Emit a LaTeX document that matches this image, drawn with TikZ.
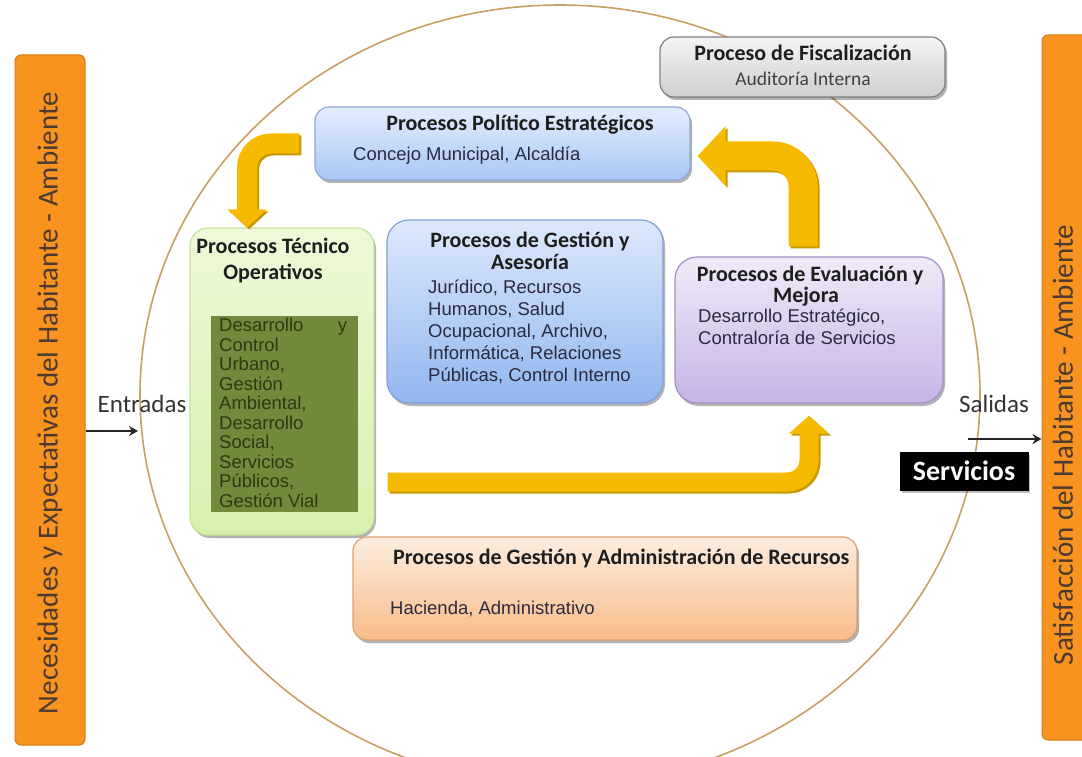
\documentclass[tikz,border=0pt]{standalone}
\usepackage{fontspec}
\setmainfont{Carlito}
\newfontfamily\bodyf{Liberation Sans}
\usetikzlibrary{arrows.meta,shadows,calc}
\definecolor{barOr}{HTML}{F7931E}
\definecolor{barOrD}{HTML}{D97A12}
\definecolor{ellc}{HTML}{C8A064}
\definecolor{fisD}{HTML}{7F7F7F}
\definecolor{fisT}{HTML}{F4F4F4}
\definecolor{fisB}{HTML}{CFCFCF}
\definecolor{polD}{HTML}{8EA9D8}
\definecolor{polT}{HTML}{E4EEFD}
\definecolor{polB}{HTML}{A9C6F4}
\definecolor{tecD}{HTML}{C5E39C}
\definecolor{tecT}{HTML}{EEF9D8}
\definecolor{tecB}{HTML}{D6F1AE}
\definecolor{olive}{HTML}{718A3C}
\definecolor{oliveT}{HTML}{2C3A10}
\definecolor{gesD}{HTML}{7F9FD8}
\definecolor{gesT}{HTML}{DDE9FC}
\definecolor{gesB}{HTML}{92B6EF}
\definecolor{evaD}{HTML}{A291C8}
\definecolor{evaT}{HTML}{F0EAF8}
\definecolor{evaB}{HTML}{C6B4E6}
\definecolor{admD}{HTML}{DDA070}
\definecolor{admT}{HTML}{FDEDE0}
\definecolor{admB}{HTML}{F8BC8A}
\definecolor{ylw}{HTML}{F6BA00}
\definecolor{ylwD}{HTML}{C99A00}
\definecolor{ttlc}{HTML}{1E1E1E}
\definecolor{bodyc}{HTML}{2A2A40}
\definecolor{sidec}{HTML}{4A3A30}
\begin{document}
\begin{tikzpicture}[x=1pt,y=-1pt,
  pbox/.style={rounded corners=14pt, line width=1.2pt,
    drop shadow={shadow xshift=2pt, shadow yshift=-3pt, opacity=0.3, fill=black}},
  ttl/.style={font=\fontsize{22}{26}\selectfont\bfseries, text=ttlc, inner sep=0pt},
  bdy/.style={font=\bodyf\fontsize{18.5}{22}\selectfont, text=bodyc, inner sep=0pt},
  sidetxt/.style={text=sidec, rotate=90, inner sep=0pt},
  yarrow/.style={draw=ylw, line cap=butt},
  yshadow/.style={draw=ylwD, line cap=butt, transform canvas={xshift=2pt,yshift=-2pt}},
  conn/.style={draw=black!85, line width=1.6pt, -{Stealth[length=9pt,width=10pt]}},
  iolabel/.style={anchor=mid, inner sep=0pt, font=\fontsize{25}{29}\selectfont, text=black!80}
]
\useasboundingbox (0,0) rectangle (1082,757);
\fill[white] (0,0) rectangle (1082,757);

% big ellipse
\draw[ellc, line width=1.6pt] (560,395) ellipse [x radius=420, y radius=390];

% side bars
\node[fill=barOr, draw=barOrD, line width=1pt, rounded corners=6pt,
      minimum width=70pt, minimum height=690pt, inner sep=0pt] (lbar) at (50,400) {};
\node[fill=barOr, draw=barOrD, line width=1pt, rounded corners=6pt,
      minimum width=60pt, minimum height=705pt, inner sep=0pt] (rbar) at (1072,387.5) {};
\node[sidetxt, font=\fontsize{29}{33}\selectfont] (ltxt) at (50,403) {Necesidades y Expectativas del Habitante - Ambiente};
\node[sidetxt, font=\fontsize{29}{33}\selectfont] (rtxt) at (1063,445) {Satisfacción del Habitante - Ambiente};

% boxes
\node[pbox, draw=fisD, top color=fisT, bottom color=fisB,
      minimum width=285pt, minimum height=60pt] (fis) at (802.5,67) {};
\node[pbox, draw=polD, top color=polT, bottom color=polB,
      minimum width=375pt, minimum height=73pt] (pol) at (502.5,143.5) {};
\node[pbox, draw=tecD, top color=tecT, bottom color=tecB, rounded corners=18pt,
      minimum width=184pt, minimum height=307pt] (tec) at (282,381.5) {};
\node[fill=olive, minimum width=147pt, minimum height=196pt, inner sep=0pt] (inner) at (284.5,414) {};
\node[pbox, draw=gesD, top color=gesT, bottom color=gesB, rounded corners=22pt,
      minimum width=276pt, minimum height=183pt] (ges) at (525,311.5) {};
\node[pbox, draw=evaD, top color=evaT, bottom color=evaB, rounded corners=22pt,
      minimum width=268pt, minimum height=146pt] (eva) at (809,330) {};
\node[pbox, draw=admD, top color=admT, bottom color=admB,
      minimum width=504pt, minimum height=103pt] (adm) at (605,588.5) {};
\node[fill=black, draw=black, minimum width=128pt, minimum height=38pt, inner sep=0pt,
      drop shadow={shadow xshift=2pt, shadow yshift=-3pt, opacity=0.25, fill=black}] (serv) at (964,471)
      {\fontsize{28}{32}\selectfont\bfseries\color{white}Servicios};

% texts
\node[ttl, anchor=mid] (fisH) at (803,58) {Proceso de Fiscalización};
\node[anchor=mid, inner sep=0pt, font=\fontsize{19.5}{23}\selectfont, text=black!75] (fisS) at (803,83) {Auditoría Interna};

\node[ttl, anchor=mid] (polH) at (520,128) {Procesos Político Estratégicos};
\node[bdy, anchor=mid west] (polS) at (353,158) {Concejo Municipal, Alcaldía};

\node[ttl, anchor=mid] (tecH1) at (273,251) {Procesos Técnico};
\node[ttl, anchor=mid] (tecH2) at (273,277) {Operativos};
\node[bdy, anchor=north west, text=oliveT, align=left,
      font=\bodyf\fontsize{18.5}{19.5}\selectfont] (tecS) at (219,318)
  {\hbox to 128pt{Desarrollo\hfill y}\\Control\\Urbano,\\Gestión\\Ambiental,\\Desarrollo\\Social,\\Servicios\\Públicos,\\Gestión Vial};

\node[ttl, anchor=mid] (gesH1) at (530,245) {Procesos de Gestión y};
\node[ttl, anchor=mid] (gesH2) at (530,267) {Asesoría};
\node[bdy, anchor=north west, align=left] (gesS) at (428,280)
  {Jurídico, Recursos\\Humanos, Salud\\Ocupacional, Archivo,\\Informática, Relaciones\\Públicas, Control Interno};

\node[ttl, anchor=mid] (evaH1) at (810,279) {Procesos de Evaluación y};
\node[ttl, anchor=mid] (evaH2) at (806,300) {Mejora};
\node[bdy, anchor=north west, align=left] (evaS) at (698,309)
  {Desarrollo Estratégico,\\Contraloría de Servicios};

\node[ttl, anchor=mid west] (admH) at (393,562) {Procesos de Gestión y Administración de Recursos};
\node[bdy, anchor=mid west] (admS) at (390,612) {Hacienda, Administrativo};

% inputs / outputs
\node[iolabel] (entr) at (142,410) {Entradas};
\node[iolabel] (sal) at (994,410) {Salidas};
\coordinate (entrEnd) at (138,431);
\coordinate (salStart) at (968,439);
\draw[conn] (lbar.east |- entrEnd) -- (entrEnd);
\draw[conn] (salStart) -- (rbar.west |- salStart);

% yellow bent arrows
\coordinate (a1s) at ([xshift=-15pt]pol.west);
\coordinate (a1e) at ([xshift=-35pt]tec.north);
\draw[yshadow, line width=20pt, rounded corners=24pt, -{Triangle[length=18pt,width=38pt]}] (a1s) -| (a1e);
\draw[yarrow, line width=20pt, rounded corners=24pt, -{Triangle[length=18pt,width=38pt]}] (a1s) -| (a1e);

\coordinate (a2s) at ([xshift=-6pt,yshift=10pt]eva.north);
\coordinate (a2e) at ([xshift=7pt,yshift=-12.5pt]pol.east);
\draw[yshadow, line width=29pt, rounded corners=30pt, -{Triangle[length=28pt,width=58pt]}] (a2s) |- (a2e);
\draw[yarrow, line width=29pt, rounded corners=30pt, -{Triangle[length=28pt,width=58pt]}] (a2s) |- (a2e);

\coordinate (a3s) at ([shift={(13pt,-100.5pt)}]tec.east);
\coordinate (a3e) at ([yshift=-12pt]eva.south);
\draw[yshadow, line width=19pt, rounded corners=22pt, -{Triangle[length=18pt,width=39pt]}] (a3s) -| (a3e);
\draw[yarrow, line width=19pt, rounded corners=22pt, -{Triangle[length=18pt,width=39pt]}] (a3s) -| (a3e);
\end{tikzpicture}
\end{document}
